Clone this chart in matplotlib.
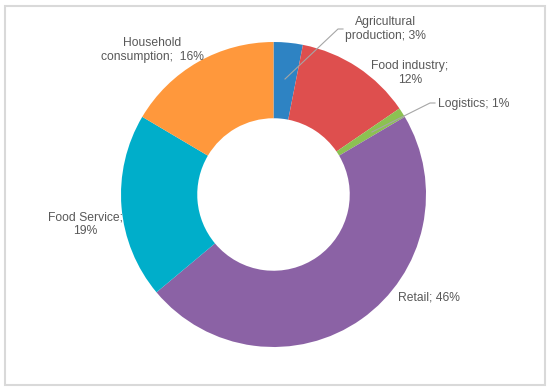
import matplotlib
matplotlib.use("Agg")
import matplotlib.pyplot as plt
from matplotlib.patches import Rectangle

categories = ["Agricultural\nproduction; 3%", "Food industry;\n12%", "Logistics; 1%",
              "Retail; 46%", "Food Service;\n19%", "Household\nconsumption;  16%"]
values = [3, 12, 1, 46, 19, 16]
colors = ["#2E83C3", "#DE4F4E", "#8CC152", "#8B62A5", "#00AECA", "#FF983C"]

plt.rcParams['font.family'] = ['Liberation Sans', 'DejaVu Sans']

W, H = 550, 392
fig = plt.figure(figsize=(W / 100, H / 100), dpi=100)
fig.patches.append(Rectangle((5 / W, 7 / H), 540 / W, 379 / H, transform=fig.transFigure,
                             facecolor="none", edgecolor="#d9d9d9", linewidth=1.5, zorder=5))

cx, cy, R = 273.5, 194.5, 152.5
ax = fig.add_axes([(cx - R) / W, (H - cy - R) / H, 2 * R / W, 2 * R / H])
ax.pie(values, colors=colors, startangle=90, counterclock=False,
       wedgeprops=dict(width=0.5, linewidth=0), radius=1.0)
ax.set_xlim(-1, 1)
ax.set_ylim(-1, 1)
ax.set_aspect('equal')
ax.axis('off')


def d(px, py):
    return ((px - cx) / R, (cy - py) / R)


txt = dict(fontsize=8.7, color="#595959")
lead = dict(color="#a6a6a6", lw=0.8, clip_on=False)

# label positions (pixel coords)
pos = [(385, 29, 'center'), (410, 73, 'center'), (438, 104, 'left'),
       (429, 297, 'center'), (85, 224, 'center'), (152, 50, 'center')]
for lab, (px, py, ha) in zip(categories, pos):
    x, y = d(px, py)
    ax.text(x, y, lab, ha=ha, va='center', multialignment='center', **txt)

# leader lines
p = [d(285, 79), d(338, 29), d(343, 29)]
ax.plot([q[0] for q in p], [q[1] for q in p], **lead)
p = [d(372, 132), d(430, 103), d(435, 103)]
ax.plot([q[0] for q in p], [q[1] for q in p], **lead)

fig.savefig("out.png", dpi=100)
